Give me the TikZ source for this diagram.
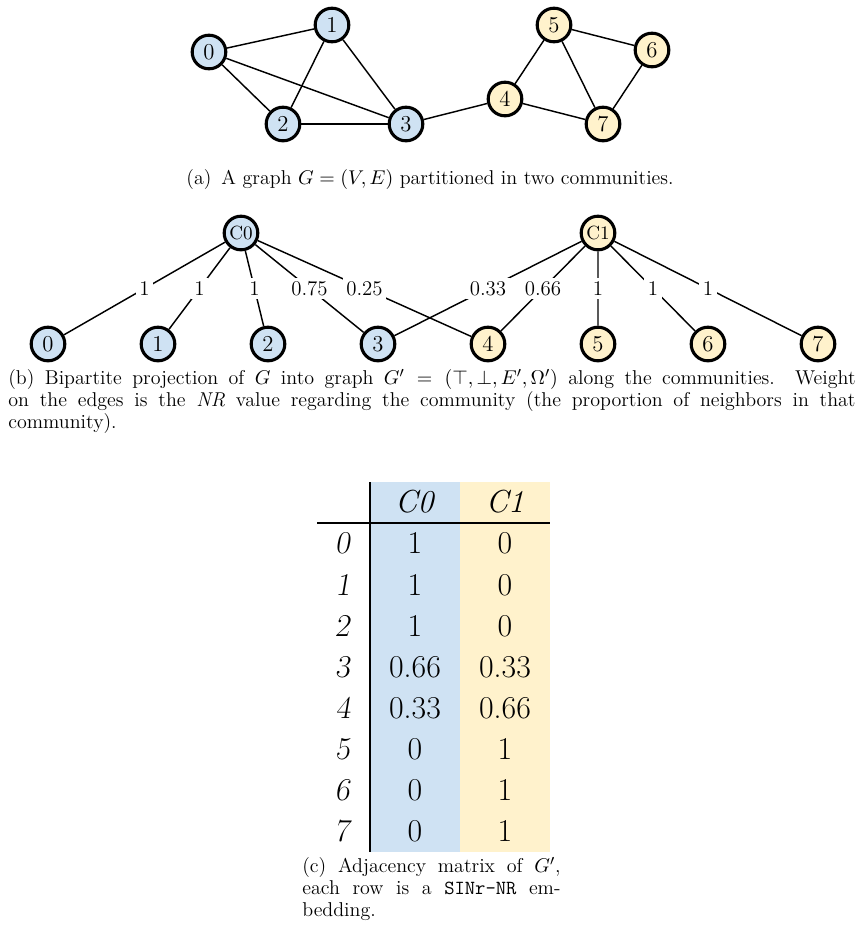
\documentclass[tikz,border=0pt]{standalone}
\usetikzlibrary{positioning}
\usepackage{color}
\definecolor{comblue}{RGB}{207,226,243}
\definecolor{comyellow}{RGB}{255,242,204}

\begin{document}
\begin{tikzpicture}[x=0.55pt,y=-0.55pt,node distance=60.5pt,on grid,
  every node/.style={font=\fontsize{11}{12.1}\selectfont},
  vertex/.style={circle,draw,line width=1.7pt,minimum size=18.5pt,inner sep=0pt,font=\fontsize{12.5}{14}\selectfont},
  comA/.style={vertex,fill=comblue},
  comB/.style={vertex,fill=comyellow},
  community/.style={font=\fontsize{10.5}{12}\selectfont},
  link/.style={line width=0.8pt},
  weight/.style={fill=white,inner sep=2pt,font=\fontsize{11.5}{13}\selectfont},
  cell/.style={font=\fontsize{17.5}{20}\selectfont,text height=12pt,text depth=0pt,inner sep=0pt}]
\useasboundingbox (0,0) rectangle (861,927);

% (a) the graph
  \node[comA]          (a0) at (209,52)          {0};
  \node[comA]          (a1) at (332,25)          {1};
  \node[comA]          (a2) at (283,124)         {2};
  \node[comA]          (a3) at (406,124)         {3};
  \node[comB]          (a4) at (505,99)          {4};
  \node[comB]          (a5) at (554,25)          {5};
  \node[comB]          (a6) at (652,50)          {6};
  \node[comB]          (a7) at (603,124)         {7};
\path[link]
      (a0)     edge      (a1)
      (a0)     edge      (a2)
      (a0)     edge      (a3)
      (a1)     edge      (a2)
      (a1)     edge      (a3)
      (a2)     edge      (a3)
      (a3)     edge      (a4)
      (a4)     edge      (a5)
      (a4)     edge      (a7)
      (a5)     edge      (a6)
      (a5)     edge      (a7)
      (a6)     edge      (a7);
  \node (capa) at (430,180) {(a)\enspace A graph $G=(V,E)$ partitioned in two communities.};

% (b) the bipartite projection
  \node[comA,community] (c0) at (241,233)        {C0};
  \node[comB,community] (c1) at (598,233)        {C1};
  \node[comA]          (b0) at (48,344)          {0};
  \node[comA]          (b1) [right =of b0]       {1};
  \node[comA]          (b2) [right =of b1]       {2};
  \node[comA]          (b3) [right =of b2]       {3};
  \node[comB]          (b4) [right =of b3]       {4};
  \node[comB]          (b5) [right =of b4]       {5};
  \node[comB]          (b6) [right =of b5]       {6};
  \node[comB]          (b7) [right =of b6]       {7};
\path[link]
      (c0)     edge      node[weight]   {1}    (b0)
      (c0)     edge      node[weight]   {1}    (b1)
      (c0)     edge      node[weight]   {1}    (b2)
      (c0)     edge      node[weight]   {0.75} (b3)
      (c0)     edge      node[weight]   {0.25} (b4)
      (c1)     edge      node[weight]   {0.33} (b3)
      (c1)     edge      node[weight]   {0.66} (b4)
      (c1)     edge      node[weight]   {1}    (b5)
      (c1)     edge      node[weight]   {1}    (b6)
      (c1)     edge      node[weight]   {1}    (b7);
  \node[text width=466pt,align=justify,inner sep=0pt,anchor=north west] (capb) at (8,369)
    {(b) Bipartite projection of $G$ into graph $G' = (\top,\bot,E',\Omega')$ along the communities. Weight\linebreak
     on the edges is the \textit{NR} value regarding the community (the proportion of neighbors in that\linebreak
     community).};

% (c) the adjacency matrix
\fill[comblue]   (370,482) rectangle (460,852);
\fill[comyellow] (460,482) rectangle (550,852);
\draw[line width=0.6pt] (370,482) -- (370,852);
\draw[line width=0.9pt] (317,523) -- (550,523);
  \node[cell]          (h0) at (415,502)         {\textit{C0}};
  \node[cell]          (h1) at (505,502)         {\textit{C1}};
  \node[cell]          (r0) at (343,543)         {\textsl{0}};
  \node[cell]          (r1) [below=22.6pt of r0] {\textsl{1}};
  \node[cell]          (r2) [below=22.6pt of r1] {\textsl{2}};
  \node[cell]          (r3) [below=22.6pt of r2] {\textsl{3}};
  \node[cell]          (r4) [below=22.6pt of r3] {\textsl{4}};
  \node[cell]          (r5) [below=22.6pt of r4] {\textsl{5}};
  \node[cell]          (r6) [below=22.6pt of r5] {\textsl{6}};
  \node[cell]          (r7) [below=22.6pt of r6] {\textsl{7}};
  \node[cell]          (v00) [right=39.6pt of r0]  {1};
  \node[cell]          (v01) [right=49.5pt of v00] {0};
  \node[cell]          (v10) [right=39.6pt of r1]  {1};
  \node[cell]          (v11) [right=49.5pt of v10] {0};
  \node[cell]          (v20) [right=39.6pt of r2]  {1};
  \node[cell]          (v21) [right=49.5pt of v20] {0};
  \node[cell]          (v30) [right=39.6pt of r3]  {0.66};
  \node[cell]          (v31) [right=49.5pt of v30] {0.33};
  \node[cell]          (v40) [right=39.6pt of r4]  {0.33};
  \node[cell]          (v41) [right=49.5pt of v40] {0.66};
  \node[cell]          (v50) [right=39.6pt of r5]  {0};
  \node[cell]          (v51) [right=49.5pt of v50] {1};
  \node[cell]          (v60) [right=39.6pt of r6]  {0};
  \node[cell]          (v61) [right=49.5pt of v60] {1};
  \node[cell]          (v70) [right=39.6pt of r7]  {0};
  \node[cell]          (v71) [right=49.5pt of v70] {1};
  \node[text width=142pt,align=justify,inner sep=0pt,anchor=north west] (capc) at (302,857)
    {(c) Adjacency matrix of $G'$,\linebreak
     each row is a \texttt{SINr-NR} em-\linebreak
     bedding.};
\end{tikzpicture}
\end{document}
